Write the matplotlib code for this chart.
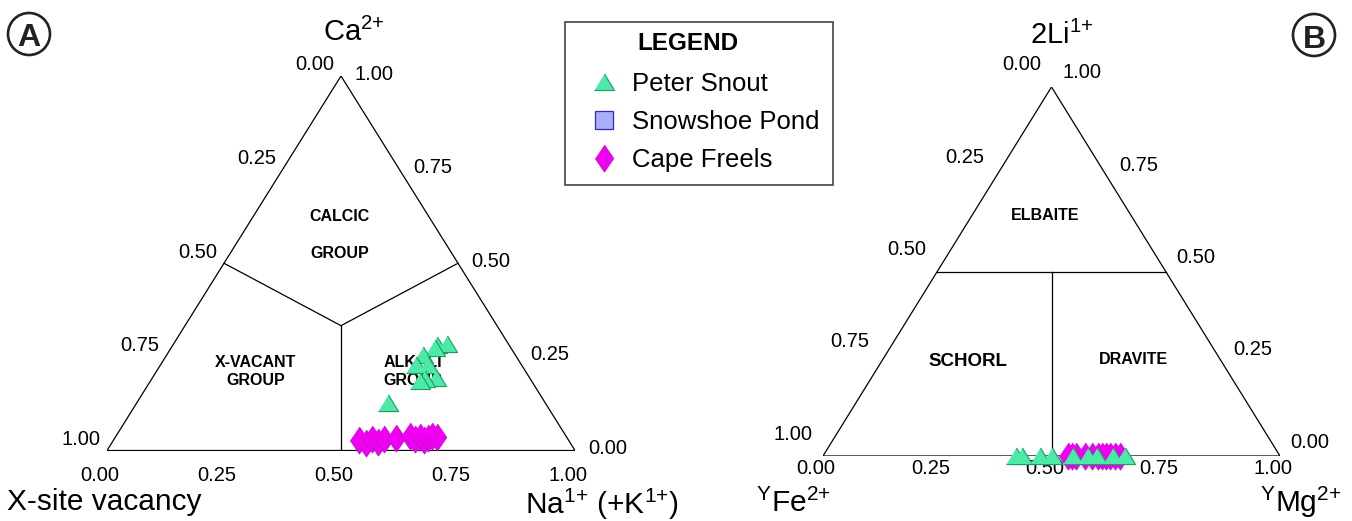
import matplotlib
matplotlib.use("Agg")
import matplotlib.pyplot as plt
from matplotlib.patches import Circle

plt.rcParams['font.family'] = ['Liberation Sans', 'DejaVu Sans']
plt.rcParams['mathtext.fontset'] = 'custom'
plt.rcParams['mathtext.rm'] = 'Liberation Sans'
plt.rcParams['mathtext.it'] = 'Liberation Sans:italic'
plt.rcParams['mathtext.bf'] = 'Liberation Sans:bold'

ticks = [0.0, 0.25, 0.5, 0.75, 1.0]
tick_labels = ['0.00', '0.25', '0.50', '0.75', '1.00']

# panel A, X-site: Ca and Na(+K) fractions (vacancy = rest)
ps_a_ca = [0.282, 0.284, 0.274, 0.255, 0.228, 0.228, 0.194, 0.191, 0.186, 0.127]
ps_a_na = [0.564, 0.584, 0.564, 0.548, 0.546, 0.572, 0.606, 0.584, 0.575, 0.537]
cf_a_ca = [0.028, 0.020, 0.031, 0.023, 0.031, 0.033, 0.039, 0.031, 0.036, 0.028, 0.033, 0.039, 0.036]
cf_a_na = [0.524, 0.543, 0.551, 0.568, 0.576, 0.601, 0.628, 0.643, 0.651, 0.663, 0.669, 0.675, 0.687]

# panel B, Y-site: 2Li and Mg fractions (Fe = rest)
ps_b_li = [0.0, 0.0, 0.0, 0.0, 0.0, 0.0, 0.0, 0.0, 0.0]
ps_b_mg = [0.422, 0.435, 0.475, 0.501, 0.547, 0.580, 0.600, 0.635, 0.661]
cf_b_li = [0.0, 0.0, 0.0, 0.0, 0.0, 0.0, 0.0, 0.0, 0.0, 0.0, 0.0]
cf_b_mg = [0.536, 0.545, 0.554, 0.573, 0.589, 0.602, 0.610, 0.619, 0.628, 0.639, 0.650]

# Snowshoe Pond: legend entry only, no analyses plotted
sp_top = []
sp_right = []

W, H = 1352, 521
TRI = [(-1, -0.8), (1, -0.8), (0, 0.85)]
DIA = [(0, 1), (0.68, 0), (0, -1), (-0.68, 0)]
ps_style = dict(ls='none', marker=TRI, ms=14.5, mfc='#4DE9A7', mec='#1F9C66', mew=0.8, zorder=5)
sp_style = dict(ls='none', marker='s', ms=13, mfc='#A9AFF6', mec='#2A2AC0', mew=0.9, zorder=5)
cf_style = dict(ls='none', marker=DIA, ms=19.5, mfc='#F000F0', mec='#C010D0', mew=0.6, zorder=4)


def tern(top, right):
    # left vertex (0,0), right vertex (1,0), apex (0.5,1)
    return [r + 0.5 * t for t, r in zip(top, right)], list(top)


def px_axes(fig, left, top, right, bottom):
    ax = fig.add_axes([left / W, 1 - bottom / H, (right - left) / W, (bottom - top) / H])
    ax.set_xlim(0, 1)
    ax.set_ylim(0, 1)
    ax.axis('off')
    return ax


def fig_text(fig, x, y, s, **kw):
    return fig.text(x / W, 1 - y / H, s, **kw)


def draw_frame(ax, off_bottom, off_left, off_right):
    ax.plot([0, 1, 0.5, 0], [0, 0, 1, 0], color='black', lw=0.9, zorder=2)
    for t, lab in zip(ticks, tick_labels):
        x, y = tern([0], [t])
        ax.annotate(lab, (x[0], y[0]), xytext=off_bottom, textcoords='offset pixels',
                    ha='center', va='center', fontsize=14.5, annotation_clip=False)
        x, y = tern([1 - t], [0])
        ax.annotate(lab, (x[0], y[0]), xytext=off_left, textcoords='offset pixels',
                    ha='center', va='center', fontsize=14.5, annotation_clip=False)
        x, y = tern([t], [1 - t])
        ax.annotate(lab, (x[0], y[0]), xytext=off_right, textcoords='offset pixels',
                    ha='center', va='center', fontsize=14.5, annotation_clip=False)


fig = plt.figure(figsize=(W / 100, H / 100), dpi=100)

# ---- panel A
axA = px_axes(fig, 107, 76, 575, 450.5)
draw_frame(axA, (-7, -25), (-26, 11), (33, 2))
cx, cy = tern([1 / 3], [1 / 3])
for t, r in [(0.5, 0.0), (0.5, 0.5), (0.0, 0.5)]:
    x, y = tern([t], [r])
    axA.plot([x[0], cx[0]], [y[0], cy[0]], color='black', lw=0.9, zorder=2)
axA.text(0.497, 0.625, 'CALCIC', ha='center', va='center', fontsize=11.5, fontweight='bold', zorder=1)
axA.text(0.497, 0.527, 'GROUP', ha='center', va='center', fontsize=11.5, fontweight='bold', zorder=1)
axA.text(0.318, 0.21, 'X-VACANT\nGROUP', ha='center', va='center', fontsize=11.5,
         fontweight='bold', linespacing=1.25, zorder=1)
axA.text(0.590, 0.21, 'ALKALI\nGROUP', ha='left', va='center', fontsize=11.5,
         fontweight='bold', linespacing=1.25, zorder=1)
x, y = tern(cf_a_ca, cf_a_na)
axA.plot(x, y, clip_on=False, **cf_style)
x, y = tern(ps_a_ca, ps_a_na)
axA.plot(x, y, clip_on=False, **ps_style)

# ---- panel B
axB = px_axes(fig, 823, 87, 1280, 456)
draw_frame(axB, (-7, -12), (-30, 22), (30, 14))
x, y = tern([0.5, 0.5], [0.0, 0.5])
axB.plot(x, y, color='black', lw=0.9, zorder=2)
x, y = tern([0.5, 0.0], [0.25, 0.5])
axB.plot(x, y, color='black', lw=0.9, zorder=2)
axB.text(0.485, 0.653, 'ELBAITE', ha='center', va='center', fontsize=11.5, fontweight='bold')
axB.text(0.317, 0.255, 'SCHORL', ha='center', va='center', fontsize=13.5, fontweight='bold')
axB.text(0.68, 0.262, 'DRAVITE', ha='center', va='center', fontsize=11.5, fontweight='bold')
x, y = tern(cf_b_li, cf_b_mg)
axB.plot(x, y, clip_on=False, label='Cape Freels', **cf_style)
x, y = tern(ps_b_li, ps_b_mg)
axB.plot(x, y, clip_on=False, label='Peter Snout', **ps_style)
x, y = tern(sp_top, sp_right)
axB.plot(x, y, label='Snowshoe Pond', **sp_style)

# ---- axis titles
fig_text(fig, 323, 41, 'Ca$^{2{+}}$', fontsize=21, ha='left', va='baseline')
fig_text(fig, 7, 510, 'X-site vacancy', fontsize=21.5, ha='left', va='baseline')
fig_text(fig, 679, 514, 'Na$^{1{+}}$ (+K$^{1{+}}$)', fontsize=21.5, ha='right', va='baseline')
fig_text(fig, 1030, 44, '2Li$^{1{+}}$', fontsize=21, ha='left', va='baseline')
fig_text(fig, 756, 512, '${}^{\\mathrm{Y}}$Fe$^{2{+}}$', fontsize=21.5, ha='left', va='baseline')
fig_text(fig, 1342, 512, '${}^{\\mathrm{Y}}$Mg$^{2{+}}$', fontsize=21.5, ha='right', va='baseline')

# ---- panel letters
for (px, py), letter in [((29, 34), 'A'), ((1314, 35), 'B')]:
    fig.add_artist(Circle((px / 100, (H - py) / 100), 0.21, transform=fig.dpi_scale_trans,
                          fill=False, ec='#222222', lw=1.9))
    fig_text(fig, px, py + 1, letter, fontsize=23, fontweight='bold', ha='center',
             va='center_baseline', color='#222222')

# ---- legend (blank title keeps the room, heading drawn separately)
h, l = axB.get_legend_handles_labels()
order = [l.index('Peter Snout'), l.index('Snowshoe Pond'), l.index('Cape Freels')]
leg = fig.legend([h[i] for i in order], [l[i] for i in order], loc='upper left',
                 bbox_to_anchor=(565 / W, 1 - 22 / H), bbox_transform=fig.transFigure,
                 borderaxespad=0, fancybox=False, edgecolor='#444444', framealpha=1,
                 title=' ', title_fontproperties={'weight': 'bold', 'size': 17.5},
                 prop={'size': 18.5}, handlelength=2.0, handletextpad=0.12,
                 borderpad=0.5, labelspacing=0.55, numpoints=1)
leg.get_frame().set_linewidth(1.2)
leg.set_zorder(3)
fig_text(fig, 688, 43, 'LEGEND', fontsize=17.5, fontweight='bold', ha='center',
         va='center', zorder=6)

fig.savefig('out.png', dpi=100)
